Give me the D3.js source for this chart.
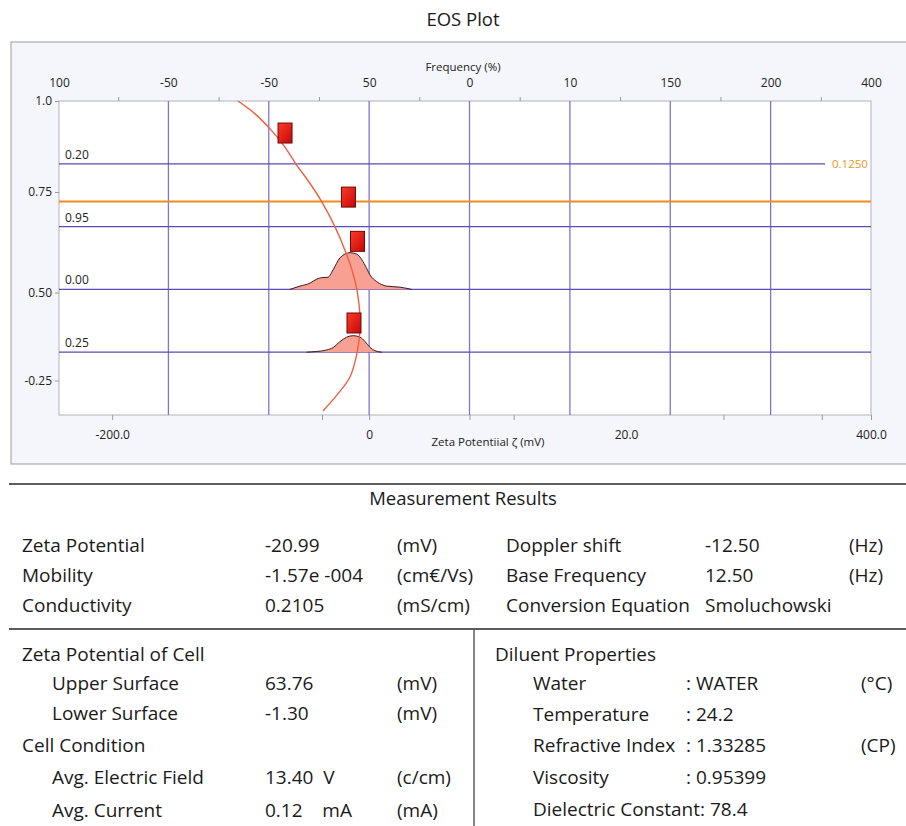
<!DOCTYPE html>
<html>
<head>
<meta charset="utf-8">
<script src="https://cdn.jsdelivr.net/npm/d3@7"></script>
<style>
  html, body { margin: 0; padding: 0; background: #ffffff; }
  svg { display: block; font-family: 'Open Sans', 'Noto Sans', sans-serif; }
</style>
</head>
<body>
<svg id="chart" width="906" height="826"></svg>
<script>
// ---- values ----

// Top (frequency) axis: label positions in grid units and their texts
const topTickPos = [-0.09, 1, 2, 3, 4, 5, 6, 7, 8];
const topTickLabels = ['100', '-50', '-50', '50', '0', '10', '150', '200', '400'];
const topMinorPos = [0.5, 1.5, 2.5, 3.5, 4.5, 5.5, 6.5, 7.5];

// Vertical grid lines
const gridPos = [1, 2, 3, 4, 5, 6, 7];

// Bottom (zeta potential) axis
const bottomTickPos = [0.44, 2.53, 3, 4, 4.44, 6.53, 7.51, 8];
const bottomLabelPos = [0.44, 3, 5.56, 8];
const bottomLabels = ['-200.0', '0', '20.0', '400.0'];

// Left axis
const yTickPos = [1.0, 0.71, 0.39, 0.11];
const yTickLabels = ['1.0', '0.75', '0.50', '-0.25'];

// Horizontal cell levels and their labels
const levelPos = [0.8, 0.6, 0.4, 0.2];
const levelLabels = ['0.20', '0.95', '0.00', '0.25'];
const stationaryLevel = 0.68;
const sideLabelLevel = 0.8;
const sideLabelText = '0.1250';

// Parabolic profile curve
const arcX = [1.693, 1.863, 2.022, 2.152, 2.271, 2.401, 2.530, 2.660, 2.759, 2.829, 2.879, 2.909, 2.909, 2.879, 2.809, 2.680, 2.540];
const arcY = [1.0, 0.959, 0.908, 0.857, 0.799, 0.742, 0.678, 0.599, 0.525, 0.462, 0.398, 0.318, 0.271, 0.197, 0.121, 0.064, 0.013];

// Measured points
const markerX = [2.162, 2.794, 2.884, 2.849];
const markerY = [0.898, 0.694, 0.553, 0.293];

// Frequency distributions (base level + frequency %)
const peak1Base = 0.4;
const peak1X = [2.21, 2.311, 2.411, 2.478, 2.527, 2.590, 2.640, 2.710, 2.809, 2.876, 2.959, 3.009, 3.076, 3.175, 3.308, 3.424];
const peak1Freq = [0, 9, 17, 28, 32, 33, 53, 86, 100, 96, 66, 39, 21, 9, 6, 0];
const peak2Base = 0.2;
const peak2X = [2.378, 2.478, 2.577, 2.643, 2.710, 2.776, 2.842, 2.909, 2.959, 3.009, 3.058, 3.125];
const peak2Freq = [0, 2, 6, 13, 29, 41, 45, 41, 29, 13, 4, 0];

// Measurement result table
const resultRows = [
  ['Zeta Potential', '-20.99', '(mV)', 'Doppler shift', '-12.50', '(Hz)'],
  ['Mobility', '-1.57e -004', '(cm€/Vs)', 'Base Frequency', '12.50', '(Hz)'],
  ['Conductivity', '0.2105', '(mS/cm)', 'Conversion Equation', 'Smoluchowski', ''],
];
const cellRows = [
  ['Zeta Potential of Cell', '', '', 0],
  ['Upper Surface', '63.76', '(mV)', 1],
  ['Lower Surface', '-1.30', '(mV)', 1],
  ['Cell Condition', '', '', 0],
  ['Avg. Electric Field', '13.40  V', '(c/cm)', 1],
  ['Avg. Current', '0.12    mA', '(mA)', 1],
];
const diluentRows = [
  ['Diluent Properties', '', '', 0],
  ['Water', ': WATER', '(°C)', 1],
  ['Temperature', ': 24.2', '', 1],
  ['Refractive Index', ': 1.33285', '(CP)', 1],
  ['Viscosity', ': 0.95399', '', 1],
  ['Dielectric Constant: 78.4', '', '', 1],
];

// ---- drawing ----
const svg = d3.select('#chart');

// Scales: grid units across, cell depth up
const x = d3.scaleLinear().domain([-0.09, 8]).range([59, 871]);
const y = d3.scaleLinear().domain([0, 1]).range([415, 101]);
const freq = d3.scaleLinear().domain([0, 100]).range([0, 0.117]);

// Gradient for the point markers
const defs = svg.append('defs');
const grad = defs.append('linearGradient').attr('id', 'redGrad')
  .attr('x1', '0').attr('y1', '0').attr('x2', '1').attr('y2', '1');
grad.append('stop').attr('offset', '0%').attr('stop-color', '#ff3a26');
grad.append('stop').attr('offset', '100%').attr('stop-color', '#c40808');
defs.append('clipPath').attr('id', 'plotClip')
  .append('rect')
  .attr('x', x.range()[0]).attr('y', y.range()[1])
  .attr('width', x.range()[1] - x.range()[0])
  .attr('height', y.range()[0] - y.range()[1]);

// Title
svg.append('text')
  .attr('x', 463).attr('y', 26)
  .attr('text-anchor', 'middle')
  .attr('font-size', 18.5)
  .attr('fill', '#1a1a1a')
  .text('EOS Plot');

// Outer frame
svg.append('rect')
  .attr('x', 11).attr('y', 42)
  .attr('width', 905).attr('height', 422)
  .attr('fill', '#f4f6fb')
  .attr('stroke', '#9c9c9c');

// Plot area
svg.append('rect')
  .attr('x', x.range()[0]).attr('y', y.range()[1])
  .attr('width', x.range()[1] - x.range()[0])
  .attr('height', y.range()[0] - y.range()[1])
  .attr('fill', '#ffffff')
  .attr('stroke', '#b4b4bc');

const plot = svg.append('g').attr('clip-path', 'url(#plotClip)');

// Vertical grid
plot.append('g')
  .selectAll('line')
  .data(gridPos)
  .enter()
  .append('line')
  .attr('x1', (d) => x(d)).attr('x2', (d) => x(d))
  .attr('y1', y(1)).attr('y2', y(0))
  .attr('stroke', '#8274d2')
  .attr('stroke-width', 1.3);

// Cell levels
plot.append('g')
  .selectAll('line')
  .data(levelPos)
  .enter()
  .append('line')
  .attr('x1', x(-0.09))
  .attr('x2', (d) => (d === sideLabelLevel ? x(8) - 46 : x(8)))
  .attr('y1', (d) => y(d)).attr('y2', (d) => y(d))
  .attr('stroke', '#5a4bb6')
  .attr('stroke-width', 1.3);

// Stationary level
plot.append('line')
  .attr('x1', x(-0.09)).attr('x2', x(8))
  .attr('y1', y(stationaryLevel)).attr('y2', y(stationaryLevel))
  .attr('stroke', '#f28a1e')
  .attr('stroke-width', 1.8);

// Level labels
svg.append('g')
  .selectAll('text')
  .data(levelPos)
  .enter()
  .append('text')
  .attr('x', x(-0.09) + 6)
  .attr('y', (d) => y(d) - 5)
  .attr('font-size', 12)
  .attr('fill', '#222')
  .text((d, i) => levelLabels[i]);

svg.append('text')
  .attr('x', x(8) - 39)
  .attr('y', y(sideLabelLevel) + 4)
  .attr('font-size', 11.5)
  .attr('fill', '#f0961e')
  .text(sideLabelText);

// Frequency distributions
const peaks = [
  { base: peak1Base, pts: peak1X.map((v, i) => [v, peak1Freq[i]]) },
  { base: peak2Base, pts: peak2X.map((v, i) => [v, peak2Freq[i]]) },
];
peaks.forEach((p) => {
  const area = d3.area()
    .x((d) => x(d[0]))
    .y0(y(p.base))
    .y1((d) => y(p.base + freq(d[1])))
    .curve(d3.curveMonotoneX);
  const top = d3.line()
    .x((d) => x(d[0]))
    .y((d) => y(p.base + freq(d[1])))
    .curve(d3.curveMonotoneX);
  plot.append('path').datum(p.pts)
    .attr('d', area)
    .attr('fill', '#f8a193');
  plot.append('path').datum(p.pts)
    .attr('d', top)
    .attr('fill', 'none')
    .attr('stroke', '#3a1c1c')
    .attr('stroke-width', 1);
});

// Profile curve
const arcLine = d3.line()
  .x((d) => x(d[0]))
  .y((d) => y(d[1]))
  .curve(d3.curveCatmullRom);
plot.append('path')
  .datum(arcX.map((v, i) => [v, arcY[i]]))
  .attr('d', arcLine)
  .attr('fill', 'none')
  .attr('stroke', '#f0603c')
  .attr('stroke-width', 1.4);

// Measured points
plot.append('g')
  .selectAll('rect')
  .data(markerX)
  .enter()
  .append('rect')
  .attr('x', (d) => x(d) - 7)
  .attr('y', (d, i) => y(markerY[i]) - 10)
  .attr('width', 14)
  .attr('height', 20)
  .attr('fill', 'url(#redGrad)')
  .attr('stroke', '#6a0a0a')
  .attr('stroke-width', 1);

// Axes
function styleAxis(g) {
  g.attr('font-family', null).attr('font-size', 12);
  g.select('.domain').remove();
  g.selectAll('.tick line').attr('stroke', '#9a9a9a');
  g.selectAll('.tick text').attr('fill', '#222');
}

svg.append('g')
  .attr('transform', `translate(0,${y(1)})`)
  .call(d3.axisTop(x).tickValues(topTickPos)
    .tickFormat((d, i) => topTickLabels[i]).tickSize(0).tickPadding(14))
  .call(styleAxis);

svg.append('g')
  .attr('transform', `translate(0,${y(1)})`)
  .call(d3.axisTop(x).tickValues(topMinorPos).tickSize(4).tickFormat(''))
  .call(styleAxis);

svg.append('g')
  .attr('transform', `translate(0,${y(0)})`)
  .call(d3.axisBottom(x).tickValues(bottomTickPos).tickSize(5).tickFormat(''))
  .call(styleAxis);

svg.append('g')
  .attr('transform', `translate(0,${y(0)})`)
  .call(d3.axisBottom(x).tickValues(bottomLabelPos)
    .tickFormat((d, i) => bottomLabels[i]).tickSize(0).tickPadding(15))
  .call(styleAxis);

svg.append('g')
  .attr('transform', `translate(${x(-0.09)},0)`)
  .call(d3.axisLeft(y).tickValues(yTickPos)
    .tickFormat((d, i) => yTickLabels[i]).tickSize(4).tickPadding(3))
  .call(styleAxis);

// Axis titles
svg.append('text')
  .attr('x', 463).attr('y', 71)
  .attr('text-anchor', 'middle')
  .attr('font-size', 11.5)
  .attr('fill', '#222')
  .text('Frequency (%)');

svg.append('text')
  .attr('x', 488).attr('y', 446)
  .attr('text-anchor', 'middle')
  .attr('font-size', 11.5)
  .attr('fill', '#222')
  .text('Zeta Potentiial ζ (mV)');

// ---- Measurement results ----
const rule = (x1, y1, x2, y2, w) => svg.append('line')
  .attr('x1', x1).attr('y1', y1).attr('x2', x2).attr('y2', y2)
  .attr('stroke', '#5c5c5c').attr('stroke-width', w);

rule(9, 484, 906, 484, 2);
rule(9, 629, 906, 629, 2);
rule(474, 629, 474, 826, 1.5);

svg.append('text')
  .attr('x', 463).attr('y', 505)
  .attr('text-anchor', 'middle')
  .attr('font-size', 18.5)
  .attr('fill', '#1a1a1a')
  .text('Measurement Results');

const tableText = svg.append('g')
  .attr('font-size', 19)
  .attr('fill', '#1a1a1a');

// Table cell writer that keeps repeated spaces
const cellText = (tx, ty, str) => tableText.append('text')
  .attr('x', tx)
  .attr('y', ty)
  .attr('xml:space', 'preserve')
  .style('white-space', 'pre')
  .text(str);

const resultCols = [22, 265, 397, 506, 705, 849];
const resultRowY = [552, 582, 612];
resultRows.forEach((row, r) => {
  row.forEach((cell, c) => {
    if (cell) cellText(resultCols[c], resultRowY[r], cell);
  });
});

const cellCols = [22, 265, 397];
const cellRowY = [661, 690, 720, 752, 784, 817];
cellRows.forEach((row, r) => {
  cellText(cellCols[0] + row[3] * 30, cellRowY[r], row[0]);
  if (row[1]) cellText(cellCols[1], cellRowY[r], row[1]);
  if (row[2]) cellText(cellCols[2], cellRowY[r], row[2]);
});

const dilCols = [495, 686, 861];
const dilRowY = [661, 690, 721, 752, 784, 816];
diluentRows.forEach((row, r) => {
  cellText(dilCols[0] + row[3] * 38, dilRowY[r], row[0]);
  if (row[1]) cellText(dilCols[1], dilRowY[r], row[1]);
  if (row[2]) cellText(dilCols[2], dilRowY[r], row[2]);
});
</script>
</body>
</html>
